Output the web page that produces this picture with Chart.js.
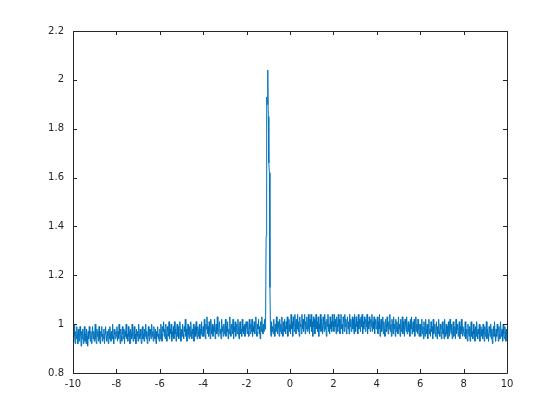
<!DOCTYPE html>
<html lang="en">
<head>
    <meta charset="UTF-8">
    <title>Signal</title>
    <script src="https://cdn.jsdelivr.net/npm/chart.js"></script>
    <style>
        body {
            margin: 0;
            background: white;
        }
        canvas {
            display: block;
        }
    </style>
</head>
<body>
    <canvas id="signalChart" width="560" height="420"></canvas>
    <script>
        // samples every 0.025 from -10 to 10, one array per 2 units of x
        const xStart = -10;
        const xStep = 0.025;

        const ySeg1 = [0.99,0.93,1.00,0.95,0.92,0.97,0.94,0.99,0.96,0.92,
            0.98,0.95,0.93,0.99,0.96,0.91,0.97,0.94,0.98,0.92,
            0.95,0.99,0.93,0.96,0.92,0.98,0.95,0.91,0.97,0.94,
            0.99,0.96,0.93,0.97,0.92,0.95,0.99,0.94,0.97,0.93,
            0.96,1.00,0.94,0.92,0.98,0.95,0.97,0.93,0.99,0.94,
            0.92,0.97,0.95,0.99,0.93,0.96,0.94,0.98,0.92,0.96,
            0.99,0.95,0.93,0.97,0.95,0.92,0.98,0.94,0.99,0.96,
            0.93,0.97,0.94,1.00,0.95,0.92,0.98,0.96,0.94,0.97];
        const ySeg2 = [0.95,0.99,0.93,0.97,0.94,1.00,0.96,0.92,0.98,0.95,
            0.93,0.99,0.96,0.94,0.98,0.92,0.97,0.95,1.00,0.94,
            0.96,0.93,0.99,0.95,0.97,0.92,0.98,0.96,0.94,1.00,
            0.95,0.93,0.97,0.99,0.94,0.96,0.92,0.98,0.95,0.97,
            0.93,1.00,0.96,0.94,0.98,0.95,0.92,0.97,0.99,0.94,
            0.96,0.93,0.98,0.95,1.00,0.94,0.97,0.92,0.96,0.99,
            0.95,0.93,0.98,0.96,0.94,1.00,0.95,0.97,0.93,0.99,
            0.96,0.94,0.98,0.92,0.97,0.95,0.99,0.94,0.96,0.93];
        const ySeg3 = [0.98,0.94,1.00,0.96,0.93,0.99,0.97,1.01,0.95,0.98,
            0.94,1.00,0.96,0.93,0.99,0.97,0.95,1.01,0.94,0.98,
            0.96,1.00,0.93,0.97,0.95,0.99,0.94,1.01,0.96,0.98,
            0.93,0.97,1.00,0.95,0.99,0.94,0.96,1.01,0.97,0.93,
            0.98,0.95,1.00,0.96,0.94,0.99,0.97,1.02,0.95,0.98,
            0.93,0.97,1.00,0.96,0.94,0.99,0.95,1.01,0.97,0.94,
            0.98,0.96,1.00,0.93,0.97,0.99,0.95,1.01,0.96,0.94,
            0.99,0.97,0.95,1.00,0.94,0.98,0.96,1.01,0.95,0.97];
        const ySeg4 = [0.99,0.95,1.02,0.97,0.94,1.00,0.98,1.03,0.96,0.99,
            0.95,1.01,0.97,0.94,1.02,0.98,0.96,1.00,0.95,0.99,
            0.97,1.02,0.94,0.98,1.00,0.96,1.03,0.97,0.95,0.99,
            1.01,0.96,0.98,0.94,1.02,0.97,0.99,0.95,1.00,0.96,
            0.98,1.02,0.95,0.99,0.97,1.01,0.94,0.98,0.96,1.03,
            0.97,0.95,1.00,0.98,0.96,1.02,0.94,0.99,0.97,1.01,
            0.95,0.98,1.00,0.96,1.02,0.97,0.94,0.99,1.01,0.96,
            0.98,0.95,1.02,0.97,0.99,0.96,1.00,0.95,0.98,1.01];
        // contains the peak near x = -1
        const ySeg5 = [0.99,0.96,1.01,0.97,0.95,1.02,0.98,0.96,1.00,0.97,
            1.02,0.95,0.99,0.97,1.01,0.96,0.99,1.03,0.97,0.95,
            1.00,0.98,1.02,0.96,0.99,0.94,1.01,0.97,1.03,0.98,
            0.96,1.00,0.97,1.02,0.98,
            1.00,1.36,1.93,1.90,2.04,1.85,1.66,1.62,1.15,0.98,
            0.95,1.01,0.97,0.99,0.96,
            1.02,0.98,0.95,1.00,0.97,1.03,0.98,0.96,1.01,0.99,
            0.95,1.02,0.97,1.00,0.96,1.03,0.98,0.95,1.01,0.97,
            1.02,0.99,0.96,1.01,0.98,1.03,0.95,0.99,1.02,0.97];
        const ySeg6 = [1.00,0.96,1.04,0.98,1.01,0.95,1.03,0.99,0.97,1.04,
            1.00,0.96,1.02,0.98,1.04,0.97,1.01,0.95,1.03,0.99,
            1.00,0.96,1.04,0.98,1.02,0.97,1.00,1.04,0.96,1.01,
            0.98,1.03,0.97,1.00,1.04,0.98,0.96,1.02,0.99,1.04,
            0.97,1.01,0.95,1.03,0.99,1.02,0.96,1.00,1.04,0.98,
            1.01,0.97,1.03,0.95,1.00,0.98,1.04,0.97,1.02,0.99,
            0.96,1.03,1.00,0.97,1.04,0.98,1.01,0.95,1.02,0.99,
            1.04,0.97,1.00,0.96,1.03,0.98,1.01,0.97,1.04,0.99];
        const ySeg7 = [1.01,0.97,1.04,0.99,1.02,0.96,1.03,1.00,0.97,1.04,
            0.99,1.02,0.96,1.01,1.04,0.98,1.00,0.96,1.03,1.01,
            0.97,1.04,0.99,1.02,0.96,1.00,1.03,0.98,1.01,0.96,
            1.04,0.99,1.02,0.97,1.00,1.03,0.98,1.02,0.96,1.04,
            1.00,0.97,1.03,0.99,1.01,0.96,1.04,0.98,1.02,1.00,
            0.97,1.03,0.99,1.04,0.96,1.01,0.98,1.03,1.00,0.97,
            1.02,0.99,1.04,0.96,1.01,0.98,1.03,1.00,0.97,1.02,
            0.99,1.04,0.97,1.01,0.98,1.03,0.96,1.00,1.02,0.98];
        const ySeg8 = [0.99,1.03,0.96,1.01,0.98,1.04,0.95,1.00,1.02,0.97,
            0.99,1.03,0.96,1.01,0.98,0.95,1.02,1.00,0.97,1.03,
            0.99,0.96,1.01,0.98,1.04,0.97,1.00,0.95,1.02,0.99,
            0.96,1.03,0.98,1.00,0.95,1.02,0.97,1.01,0.99,0.96,
            1.03,0.98,1.00,0.95,1.02,0.97,0.99,1.03,0.96,1.01,
            0.98,0.95,1.02,1.00,0.97,1.03,0.96,0.99,1.01,0.97,
            1.00,0.95,1.02,0.98,1.03,0.96,0.99,1.01,0.97,1.02,
            0.95,0.99,1.03,0.97,1.00,0.96,1.02,0.98,0.95,1.00];
        const ySeg9 = [1.00,0.95,0.98,1.02,0.96,0.99,0.94,1.01,0.97,0.95,
            1.02,0.98,0.96,1.00,0.94,0.99,1.02,0.96,0.98,0.95,
            1.01,0.97,0.99,0.94,1.02,0.96,0.98,1.00,0.95,0.97,
            1.01,0.94,0.99,0.96,1.02,0.97,0.95,1.00,0.98,0.94,
            0.99,1.01,0.96,0.98,0.94,1.02,0.97,0.95,1.00,0.96,
            0.99,0.94,1.01,0.97,0.95,1.02,0.98,0.96,1.00,0.94,
            0.98,1.01,0.95,0.97,0.99,0.94,1.02,0.96,0.98,1.00,
            0.95,0.97,1.01,0.94,0.99,0.96,1.02,0.97,0.95,0.99];
        const ySeg10 = [0.99,0.95,0.97,1.01,0.94,0.98,0.96,0.93,1.00,0.97,
            0.95,0.99,0.93,0.98,1.01,0.95,0.97,0.94,1.00,0.96,
            0.98,0.93,0.99,0.95,1.01,0.97,0.94,0.98,0.96,1.00,
            0.93,0.97,0.99,0.95,0.98,0.94,1.00,0.96,0.93,0.99,
            0.95,0.97,1.01,0.94,0.98,0.96,0.93,0.99,0.97,0.95,
            1.00,0.94,0.98,0.92,0.97,0.99,0.95,1.01,0.96,0.93,
            0.98,0.95,1.00,0.97,0.93,0.99,0.96,0.94,1.01,0.97,
            0.95,0.98,0.93,1.00,0.96,0.94,0.99,0.97,0.93,0.98,
            0.95];

        const xTicks = [-10, -8, -6, -4, -2, 0, 2, 4, 6, 8, 10];
        const yTicks = [0.8, 1, 1.2, 1.4, 1.6, 1.8, 2, 2.2];

        const yValues = [].concat(ySeg1, ySeg2, ySeg3, ySeg4, ySeg5, ySeg6, ySeg7, ySeg8, ySeg9, ySeg10);
        const points = yValues.map((v, i) => ({ x: xStart + i * xStep, y: v }));

        const axisColor = '#262626';
        const tickFont = { family: 'DejaVu Sans', size: 10 };

        // matlab style box with inward ticks on every side
        const boxPlugin = {
            id: 'box',
            afterDraw(chart) {
                const { ctx, chartArea: a } = chart;
                const xs = chart.scales.x;
                const ys = chart.scales.y;
                const len = 4;
                ctx.save();
                ctx.strokeStyle = axisColor;
                ctx.lineWidth = 1;
                ctx.beginPath();
                ctx.rect(a.left + 0.5, a.top + 0.5, a.right - a.left, a.bottom - a.top);
                xTicks.forEach(v => {
                    const px = Math.round(xs.getPixelForValue(v)) + 0.5;
                    ctx.moveTo(px, a.bottom);
                    ctx.lineTo(px, a.bottom - len);
                    ctx.moveTo(px, a.top);
                    ctx.lineTo(px, a.top + len);
                });
                yTicks.forEach(v => {
                    const py = Math.round(ys.getPixelForValue(v)) + 0.5;
                    ctx.moveTo(a.left, py);
                    ctx.lineTo(a.left + len, py);
                    ctx.moveTo(a.right, py);
                    ctx.lineTo(a.right - len, py);
                });
                ctx.stroke();
                ctx.restore();
            }
        };

        const config = {
            type: 'line',
            data: {
                datasets: [{
                    data: points,
                    borderColor: '#0072BD',
                    borderWidth: 1,
                    pointRadius: 0,
                    tension: 0,
                    fill: false
                }]
            },
            options: {
                responsive: false,
                animation: false,
                layout: {
                    padding: { top: 31, right: 53, left: 0, bottom: 0 }
                },
                scales: {
                    x: {
                        type: 'linear',
                        min: -10,
                        max: 10,
                        afterBuildTicks: scale => { scale.ticks = xTicks.map(v => ({ value: v })); },
                        afterFit: scale => { scale.height = 47; },
                        grid: { display: false, drawTicks: false },
                        border: { display: false },
                        ticks: {
                            color: axisColor,
                            font: tickFont,
                            padding: 5,
                            maxRotation: 0,
                            callback: v => String(v)
                        }
                    },
                    y: {
                        type: 'linear',
                        min: 0.8,
                        max: 2.2,
                        afterBuildTicks: scale => { scale.ticks = yTicks.map(v => ({ value: v })); },
                        afterFit: scale => { scale.width = 73; },
                        grid: { display: false, drawTicks: false },
                        border: { display: false },
                        ticks: {
                            color: axisColor,
                            font: tickFont,
                            padding: 9,
                            callback: v => String(Number(v.toFixed(1)))
                        }
                    }
                },
                plugins: {
                    legend: { display: false },
                    tooltip: { enabled: false }
                }
            },
            plugins: [boxPlugin]
        };

        new Chart(document.getElementById('signalChart').getContext('2d'), config);
    </script>
</body>
</html>
